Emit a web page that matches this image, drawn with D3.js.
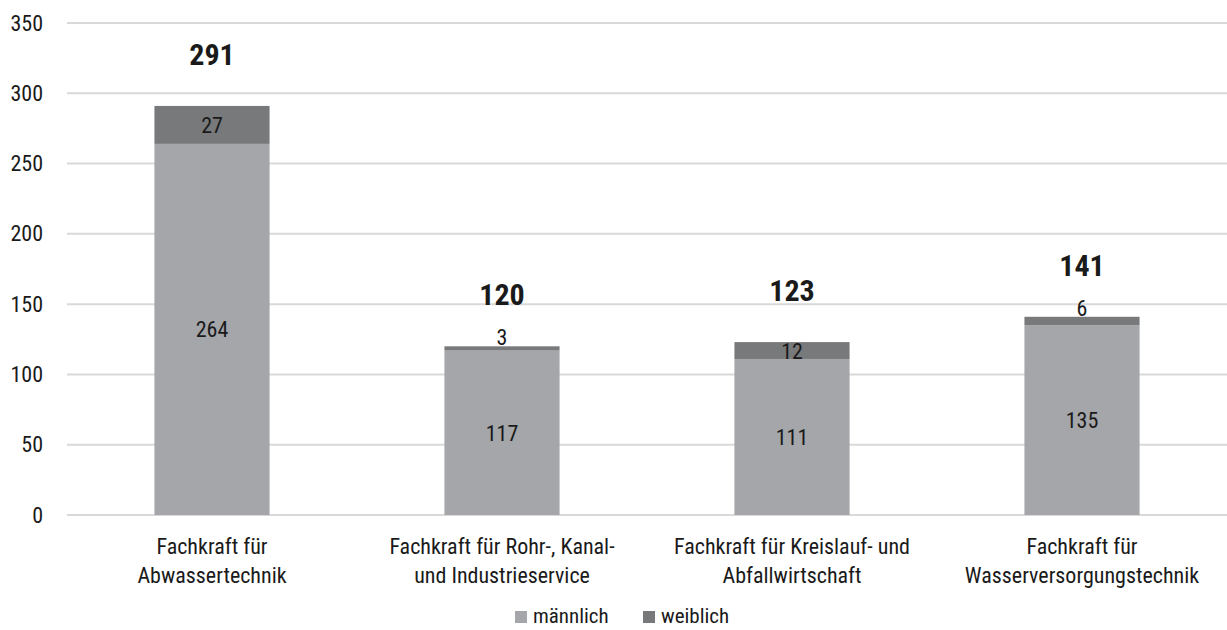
<!DOCTYPE html>
<html><head><meta charset="utf-8">
<script src="https://cdn.jsdelivr.net/npm/d3@7"></script>
<style>
body{margin:0;background:#fff;}
text{font-family:"Liberation Sans Narrow","Arial Narrow","Roboto Condensed",sans-serif;fill:#1a1a1a;}
</style></head>
<body><svg id="c" width="1227" height="630"></svg>
<script>
const categories = [
  ["Fachkraft für", "Abwassertechnik"],
  ["Fachkraft für Rohr-, Kanal-", "und Industrieservice"],
  ["Fachkraft für Kreislauf- und", "Abfallwirtschaft"],
  ["Fachkraft für", "Wasserversorgungstechnik"]
];
const maennlich = [264, 117, 111, 135];
const weiblich = [27, 3, 12, 6];
const totals = [291, 120, 123, 141];
const yTicks = [0, 50, 100, 150, 200, 250, 300, 350];
const seriesNames = ["männlich", "weiblich"];
const colors = ["#a4a6a9", "#77797b"];

const svg = d3.select("#c");
const m = {left: 67, right: 0, top: 23, bottom: 115};
const W = 1227, H = 630;
const x = d3.scaleBand().domain(d3.range(categories.length)).range([m.left, W - m.right]).paddingInner(0.603).paddingOuter(0.3015);
const y = d3.scaleLinear().domain([0, 350]).range([H - m.bottom, m.top]);

// gridlines
svg.append("g").selectAll("line").data(yTicks).join("line")
  .attr("x1", m.left).attr("x2", W).attr("y1", d => y(d)).attr("y2", d => y(d))
  .attr("stroke", "#d9d9d9").attr("stroke-width", 2);

// y axis labels
const yAxis = d3.axisLeft(y).tickValues(yTicks).tickSize(0).tickPadding(24);
const ga = svg.append("g").attr("transform", `translate(${m.left},0)`).call(yAxis);
ga.select(".domain").remove();
ga.selectAll("text").style("font-size", "22px").attr("fill", "#1a1a1a")
  .style("font-family", '"Liberation Sans Narrow","Arial Narrow","Roboto Condensed",sans-serif');

const stackData = categories.map((c, i) => ({i, m: maennlich[i], w: weiblich[i]}));
const stack = d3.stack().keys(["m", "w"])(stackData);

const gs = svg.append("g").selectAll("g").data(stack).join("g").attr("fill", (d, k) => colors[k]);
gs.selectAll("rect").data(d => d).join("rect")
  .attr("x", d => x(d.data.i)).attr("width", x.bandwidth())
  .attr("y", d => y(d[1])).attr("height", d => y(d[0]) - y(d[1]));

// segment labels
const gl = svg.append("g");
stack.forEach((s, k) => {
  gl.selectAll(null).data(s).join("text")
    .attr("x", d => x(d.data.i) + x.bandwidth() / 2)
    .attr("y", d => {
      const mid = (y(d[0]) + y(d[1])) / 2;
      const h = y(d[0]) - y(d[1]);
      return (h < 10 ? y(d[1]) - 1 : mid + 8);
    })
    .attr("text-anchor", "middle").style("font-size", "22px")
    .text(d => d.data[k === 0 ? "m" : "w"]);
});

// totals
svg.append("g").selectAll("text").data(totals).join("text")
  .attr("x", (d, i) => x(i) + x.bandwidth() / 2)
  .attr("y", d => y(d) - 41)
  .attr("text-anchor", "middle").style("font-size", "30px").style("font-weight", "bold")
  .attr("fill", "#111").text(d => d);

// category labels
const gc = svg.append("g").selectAll("text").data(categories).join("text")
  .attr("text-anchor", "middle").style("font-size", "22px")
  .attr("transform", (d, i) => `translate(${x(i) + x.bandwidth() / 2},${y(0)})`);
gc.selectAll("tspan").data(d => d).join("tspan")
  .attr("x", 0).attr("y", (d, j) => 39 + j * 29).text(d => d);

// legend
const legX = [515, 643];
const lg = svg.append("g").selectAll("g").data(seriesNames).join("g")
  .attr("transform", (d, k) => `translate(${legX[k]},611)`);
lg.append("rect").attr("width", 12).attr("height", 12).attr("fill", (d, k) => colors[k]);
lg.append("text").attr("x", 18).attr("y", 12).style("font-size", "21px").text(d => d);
</script></body></html>
